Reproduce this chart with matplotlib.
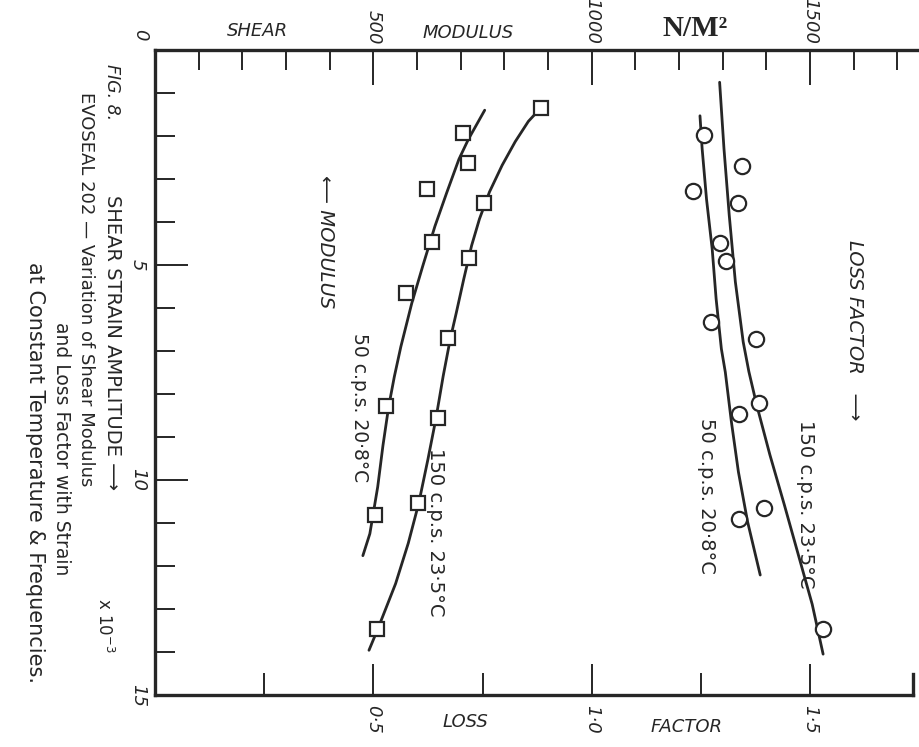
import matplotlib
matplotlib.use("Agg")
import matplotlib.pyplot as plt
from matplotlib.ticker import MultipleLocator

INK = "#262626"

# ---- data (strain in units of 1e-3) ----
# shear modulus, N/m^2, square markers
strain_mod_50 = [1.94, 2.63, 3.23, 4.47, 5.66, 8.28, 10.81]
modulus_50 = [706, 716, 624, 635, 574, 529, 504]
strain_mod_150 = [1.34, 3.55, 4.83, 6.70, 8.56, 10.54, 13.47]
modulus_150 = [885, 753, 720, 670, 649, 603, 508]

# hand-drawn modulus curves
curve_strain_mod_50 = [1.40, 2.07, 2.54, 3.32, 4.10, 5.03, 5.89, 6.90, 7.60, 8.30, 9.20, 10.16, 11.25, 11.76]
curve_modulus_50 = [755, 718, 696, 668, 641, 613, 588, 563, 548, 535, 522, 510, 492, 476]
curve_strain_mod_150 = [1.33, 1.66, 2.13, 2.68, 3.30, 3.93, 4.55, 5.33, 6.11, 6.73, 7.58, 8.59, 9.52, 10.54, 11.47, 12.41, 13.47, 13.96]
curve_modulus_150 = [885, 855, 825, 795, 766, 743, 725, 707, 690, 676, 660, 643, 625, 604, 580, 551, 510, 490]

# loss factor, circle markers
strain_loss_50 = [1.97, 3.29, 4.49, 6.33, 8.46, 10.90]
loss_50 = [1.257, 1.232, 1.293, 1.274, 1.338, 1.338]
strain_loss_150 = [2.69, 3.55, 4.91, 6.71, 8.22, 10.66, 13.47]
loss_150 = [1.344, 1.334, 1.307, 1.377, 1.383, 1.395, 1.530]

# hand-drawn loss factor curves
curve_strain_loss_50 = [1.53, 2.30, 3.47, 4.63, 5.79, 6.95, 7.49, 8.65, 9.81, 10.97, 12.21]
curve_loss_50 = [1.248, 1.253, 1.263, 1.276, 1.285, 1.297, 1.306, 1.320, 1.336, 1.357, 1.386]
curve_strain_loss_150 = [0.75, 2.30, 3.84, 5.39, 6.79, 7.48, 8.26, 9.41, 10.57, 11.73, 12.89, 14.05]
curve_loss_150 = [1.293, 1.303, 1.315, 1.329, 1.347, 1.360, 1.378, 1.408, 1.441, 1.473, 1.505, 1.530]

modulus_ticks = [500, 1000, 1500]
strain_ticks = [5, 10, 15]
loss_ticks = [0.5, 1.0, 1.5]
loss_minor = [0.25, 0.75, 1.25]

W, H = 920, 747
fig = plt.figure(figsize=(W / 100, H / 100), dpi=100)
fig.patch.set_facecolor("white")

ax = fig.add_axes([155 / W, 1 - 695 / H, 762 / W, 645 / H])
# twin for the loss factor scale; twiny() flips ax ticks to the bottom,
# so create it first and configure ax afterwards
axl = ax.twiny()

ax.set_xlim(0, 1745)
ax.set_ylim(15, 0)
axl.set_xlim(0, 1.745)

for side in ("top", "left", "bottom"):
    ax.spines[side].set_linewidth(2.4)
    ax.spines[side].set_color(INK)
ax.spines["right"].set_visible(False)
ax.spines["bottom"].set_bounds(0, 1735)
ax.plot([1735, 1735], [15, 14.5], color=INK, lw=2.4, clip_on=False,
        solid_capstyle="projecting")
for s in axl.spines.values():
    s.set_visible(False)

# top axis: shear modulus
ax.xaxis.set_ticks_position("top")
ax.set_xticks(modulus_ticks)
ax.set_xticklabels([str(v) for v in modulus_ticks], rotation=-90,
                   fontstyle="italic", fontsize=13, color=INK)
ax.xaxis.set_minor_locator(MultipleLocator(100))
ax.tick_params(axis="x", which="both", top=True, bottom=False,
               labeltop=True, labelbottom=False)
ax.tick_params(axis="x", which="major", direction="in", length=25, width=1.4,
               color=INK, pad=4)
ax.tick_params(axis="x", which="minor", direction="in", length=14.5, width=1.4,
               color=INK)

# left axis: strain amplitude
ax.set_yticks(strain_ticks)
ax.set_yticklabels([str(v) for v in strain_ticks], rotation=-90, va="center",
                   fontstyle="italic", fontsize=13, color=INK)
ax.yaxis.set_minor_locator(MultipleLocator(1))
ax.tick_params(axis="y", which="major", direction="in", length=24, width=1.4,
               color=INK, pad=6)
ax.tick_params(axis="y", which="minor", direction="in", length=14.5, width=1.4,
               color=INK)

# bottom axis: loss factor
axl.set_xticks(loss_ticks)
axl.set_xticklabels([f"{v:.1f}".replace(".", "·") for v in loss_ticks],
                    rotation=-90, fontstyle="italic", fontsize=13, color=INK)
axl.set_xticks(loss_minor, minor=True)
axl.tick_params(axis="x", which="both", top=False, bottom=True,
                labeltop=False, labelbottom=True)
axl.tick_params(axis="x", which="major", direction="in", length=22, width=1.4,
                color=INK, pad=7)
axl.tick_params(axis="x", which="minor", direction="in", length=16, width=1.4,
                color=INK)

# curves and points
line_kw = dict(color=INK, lw=2.0, solid_capstyle="round", solid_joinstyle="round", zorder=2)
sq_kw = dict(ls="none", marker="s", ms=10, mfc="white", mec=INK, mew=1.6, zorder=3)
ci_kw = dict(ls="none", marker="o", ms=11, mfc="white", mec=INK, mew=1.6, zorder=3)

ax.plot(curve_modulus_50, curve_strain_mod_50, **line_kw)
ax.plot(curve_modulus_150, curve_strain_mod_150, **line_kw)
ax.plot(modulus_50, strain_mod_50, **sq_kw)
ax.plot(modulus_150, strain_mod_150, **sq_kw)

axl.plot(curve_loss_50, curve_strain_loss_50, **line_kw)
axl.plot(curve_loss_150, curve_strain_loss_150, **line_kw)
axl.plot(loss_50, strain_loss_50, **ci_kw)
axl.plot(loss_150, strain_loss_150, **ci_kw)


def label(x, y, s, **kw):
    kw.setdefault("color", INK)
    kw.setdefault("ha", "center")
    kw.setdefault("va", "center")
    fig.text(x / W, 1 - y / H, s, **kw)


# top annotations
label(140, 35, "0", rotation=-90, fontstyle="italic", fontsize=13)
label(257, 31, "SHEAR", fontstyle="italic", fontsize=13)
label(468, 33, "MODULUS", fontstyle="italic", fontsize=13)
label(695, 28, "N/M²", family="Liberation Serif", fontweight="bold", fontsize=21)

# caption and strain axis title (rotated)
label(112, 64, "FIG. 8.", rotation=-90, va="top", fontstyle="italic", fontsize=12.5)
label(86, 92, "EVOSEAL 202 — Variation of Shear Modulus", rotation=-90, va="top", fontsize=13)
label(61, 322, "and Loss Factor with Strain", rotation=-90, va="top", fontsize=13.5)
label(35, 262, "at Constant Temperature & Frequencies.", rotation=-90, va="top", fontsize=15)
label(112, 195, "SHEAR STRAIN AMPLITUDE ⟶", rotation=-90, va="top", fontsize=14)
label(104, 625, "x 10$^{-3}$", rotation=-90, fontsize=12)

# curve annotations
label(325, 175, "⟵ MODULUS", rotation=-90, va="top", fontstyle="italic", fontsize=14)
label(360, 333, "50 c.p.s. 20·8°C", rotation=-90, va="top", fontsize=13.5)
label(436, 448, "150 c.p.s. 23·5°C", rotation=-90, va="top", fontsize=14)
label(855, 240, "LOSS FACTOR   ⟶", rotation=-90, va="top", fontstyle="italic", fontsize=14)
label(806, 420, "150 c.p.s. 23·5°C", rotation=-90, va="top", fontsize=14)
label(707, 418, "50 c.p.s. 20·8°C", rotation=-90, va="top", fontsize=14)

# bottom annotations
label(465, 722, "LOSS", fontstyle="italic", fontsize=13)
label(687, 727, "FACTOR", fontstyle="italic", fontsize=13)

fig.savefig("out.png", dpi=100, facecolor="white")
